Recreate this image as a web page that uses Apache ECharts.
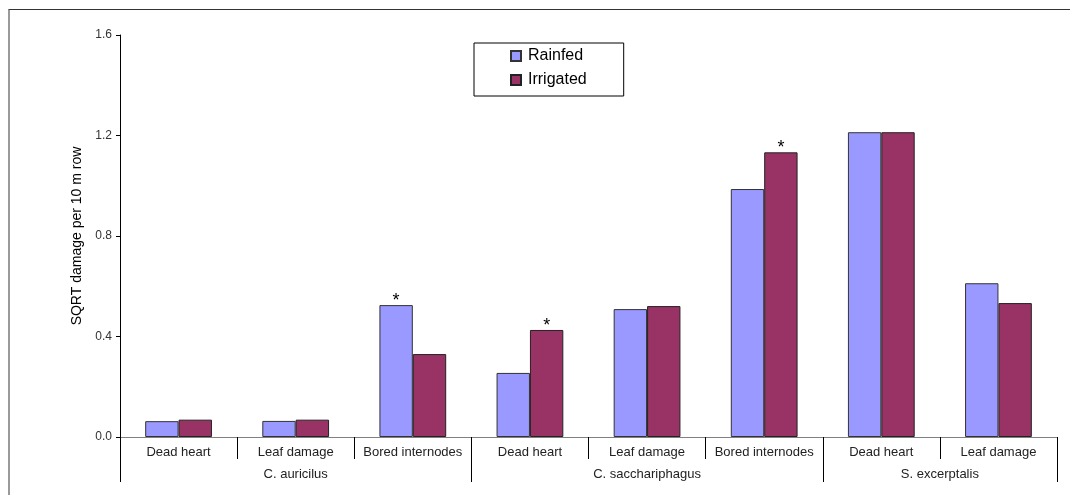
<!DOCTYPE html>
<html>
<head>
<meta charset="utf-8">
<script src="https://cdn.jsdelivr.net/npm/echarts@6/dist/echarts.min.js"></script>
<style>
  html, body { margin: 0; padding: 0; background: #fff; }
  #frame { position: absolute; left: 8px; top: 9px; width: 1062px; height: 486px;
           border-top: 1px solid #333; border-left: 2px solid #9a9a9a; box-sizing: border-box; }
  #chart { position: absolute; left: 0; top: 0; width: 1070px; height: 495px; }
</style>
</head>
<body>
<div id="frame"></div>
<div id="chart"></div>
<script>
// Damage type per bar pair, left to right
const categories = ['Dead heart', 'Leaf damage', 'Bored internodes',
                    'Dead heart', 'Leaf damage', 'Bored internodes',
                    'Dead heart', 'Leaf damage'];
// Pest species grouping the damage types
const groupNames = ['C. auricilus', 'C. sacchariphagus', 'S. excerptalis'];
const groupSizes = [3, 3, 2];

const rainfed   = [0.063, 0.064, 0.525, 0.255, 0.509, 0.987, 1.213, 0.612];
const irrigated = [0.069, 0.069, 0.330, 0.426, 0.521, 1.133, 1.213, 0.533];
// 1 = significant difference, marked with an asterisk
const rainfedSig   = [0, 0, 1, 0, 0, 0, 0, 0];
const irrigatedSig = [0, 0, 0, 1, 0, 1, 0, 0];

const yTicks = [0, 0.4, 0.8, 1.2, 1.6];

// group boundaries and centres on the 0..n scale of the second axis
const bounds = [0];
groupSizes.forEach(s => bounds.push(bounds[bounds.length - 1] + s));
const centres = groupSizes.map((s, i) => bounds[i] + s / 2);

const FONT = 'Liberation Sans, Arial, sans-serif';

function withStars(values, sig) {
  return values.map((v, i) => sig[i] ? {
    value: v,
    label: { show: true, position: 'top', distance: -5, formatter: '*',
             fontSize: 18, color: '#000', fontFamily: FONT }
  } : v);
}

const chart = echarts.init(document.getElementById('chart'), null, { renderer: 'canvas' });
chart.setOption({
  animation: false,
  backgroundColor: 'transparent',
  textStyle: { fontFamily: FONT },
  grid: { left: 120, right: 13, top: 35, bottom: 58, containLabel: false },
  legend: {
    orient: 'vertical',
    left: 474, top: 43,
    padding: [5, 37, 8, 36],
    itemGap: 8,
    itemWidth: 10, itemHeight: 10,
    borderColor: '#000', borderWidth: 1,
    icon: 'rect',
    textStyle: { fontSize: 16, color: '#000', fontFamily: FONT, padding: [0, 0, 0, 2] },
    data: ['Rainfed', 'Irrigated']
  },
  xAxis: [
    {
      type: 'category',
      data: categories.map((c, i) => String(i)),
      boundaryGap: true,
      axisLine: { lineStyle: { color: '#808080', width: 1 } },
      axisTick: { show: true, interval: 0, length: 22, lineStyle: { color: '#000' } },
      axisLabel: { interval: 0, margin: 9, fontSize: 13, color: '#222', fontFamily: FONT,
                   formatter: v => categories[+v] }
    },
    {
      type: 'value',
      position: 'bottom',
      min: 0, max: bounds[bounds.length - 1],
      axisLine: { show: false },
      splitLine: { show: false },
      axisTick: { show: true, customValues: bounds, length: 45, lineStyle: { color: '#000' } },
      axisLabel: { customValues: centres, margin: 31, fontSize: 13, color: '#222', fontFamily: FONT,
                   formatter: v => groupNames[centres.indexOf(v)] }
    }
  ],
  yAxis: {
    type: 'value',
    min: yTicks[0], max: yTicks[yTicks.length - 1], interval: 0.4,
    name: 'SQRT damage per 10 m row',
    nameLocation: 'middle', nameGap: 35,
    nameTextStyle: { fontSize: 14, color: '#000', fontFamily: FONT },
    axisLine: { show: true, lineStyle: { color: '#000' } },
    axisTick: { show: true, length: 4, lineStyle: { color: '#000' } },
    axisLabel: { margin: 8, fontSize: 12, color: '#333', fontFamily: FONT,
                 formatter: v => v.toFixed(1) },
    splitLine: { show: false }
  },
  series: [
    {
      name: 'Rainfed', type: 'bar', xAxisIndex: 0,
      barGap: '0%', barCategoryGap: '43%',
      itemStyle: { color: '#9999FF', borderColor: '#333', borderWidth: 1 },
      data: withStars(rainfed, rainfedSig)
    },
    {
      name: 'Irrigated', type: 'bar', xAxisIndex: 0,
      barGap: '0%', barCategoryGap: '43%',
      itemStyle: { color: '#993366', borderColor: '#222', borderWidth: 1 },
      data: withStars(irrigated, irrigatedSig)
    }
  ]
});
</script>
</body>
</html>
